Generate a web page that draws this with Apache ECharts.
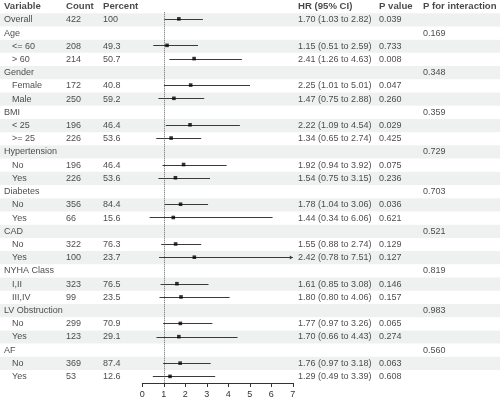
<!DOCTYPE html>
<html lang="en">
<head>
    <meta charset="UTF-8">
    <title>Forest plot</title>
    <script src="https://cdn.jsdelivr.net/npm/echarts@6/dist/echarts.min.js"></script>
    <style>
        * { margin: 0; padding: 0; }
        html, body { width: 500px; height: 399px; background: #fff; }
        #main { width: 500px; height: 399px; }
    </style>
</head>
<body>
<div id="main"></div>
<script type="text/javascript">
    // rows of the table (top to bottom)
    var labels = ['Overall', 'Age', '<= 60', '> 60', 'Gender', 'Female', 'Male', 'BMI', '< 25', '>= 25',
        'Hypertension', 'No', 'Yes', 'Diabetes', 'No', 'Yes', 'CAD', 'No', 'Yes', 'NYHA Class', 'I,II', 'III,IV',
        'LV Obstruction', 'No', 'Yes', 'AF', 'No', 'Yes'];
    var isSub = [0, 0, 1, 1, 0, 1, 1, 0, 1, 1, 0, 1, 1, 0, 1, 1, 0, 1, 1, 0, 1, 1, 0, 1, 1, 0, 1, 1];
    var counts = ['422', '', '208', '214', '', '172', '250', '', '196', '226', '', '196', '226', '', '356', '66',
        '', '322', '100', '', '323', '99', '', '299', '123', '', '369', '53'];
    var percents = ['100', '', '49.3', '50.7', '', '40.8', '59.2', '', '46.4', '53.6', '', '46.4', '53.6', '', '84.4', '15.6',
        '', '76.3', '23.7', '', '76.5', '23.5', '', '70.9', '29.1', '', '87.4', '12.6'];
    var hr = [1.70, null, 1.15, 2.41, null, 2.25, 1.47, null, 2.22, 1.34, null, 1.92, 1.54, null, 1.78, 1.44,
        null, 1.55, 2.42, null, 1.61, 1.80, null, 1.77, 1.70, null, 1.76, 1.29];
    var lower = [1.03, null, 0.51, 1.26, null, 1.01, 0.75, null, 1.09, 0.65, null, 0.94, 0.75, null, 1.04, 0.34,
        null, 0.88, 0.78, null, 0.85, 0.80, null, 0.97, 0.66, null, 0.97, 0.49];
    var upper = [2.82, null, 2.59, 4.63, null, 5.01, 2.88, null, 4.54, 2.74, null, 3.92, 3.15, null, 3.06, 6.06,
        null, 2.74, 7.51, null, 3.08, 4.06, null, 3.26, 4.43, null, 3.18, 3.39];
    var pValues = ['0.039', '', '0.733', '0.008', '', '0.047', '0.260', '', '0.029', '0.425', '', '0.075', '0.236', '',
        '0.036', '0.621', '', '0.129', '0.127', '', '0.146', '0.157', '', '0.065', '0.274', '', '0.063', '0.608'];
    var pInteraction = ['', '0.169', '', '', '0.348', '', '', '0.359', '', '', '0.729', '', '', '0.703', '', '',
        '0.521', '', '', '0.819', '', '', '0.983', '', '', '0.560', '', ''];
    var headers = ['Variable', 'Count', 'Percent', 'HR (95% CI)', 'P value', 'P for interaction'];
    var xTicks = [0, 1, 2, 3, 4, 5, 6, 7];

    var FONT = 'Liberation Sans';
    var XMAX = xTicks[xTicks.length - 1];
    var n = labels.length;

    var hrText = hr.map(function (v, i) {
        if (v == null) return '';
        return v.toFixed(2) + ' (' + lower[i].toFixed(2) + ' to ' + upper[i].toFixed(2) + ')';
    });

    // table grid: row 0 is the header, rows 1..n the data
    var tableCats = [];
    for (var i = 0; i <= n; i++) tableCats.push(String(i));

    function textSeries(x, header, texts, indentFn) {
        var data = [{value: [x, 0], label: {formatter: header, fontWeight: 'bold', fontSize: 9.6}}];
        texts.forEach(function (t, i) {
            if (t === '') return;
            var xx = indentFn ? indentFn(i) : x;
            data.push({value: [xx, i + 1], label: {formatter: t}});
        });
        return {
            type: 'scatter', xAxisIndex: 0, yAxisIndex: 0, symbolSize: 0, silent: true, z: 5,
            label: {show: true, position: 'right', distance: 0, fontFamily: FONT, fontSize: 9, color: '#1a1a1a'},
            data: data
        };
    }

    var shade = [];
    for (var i = 0; i <= n; i++) shade.push(i > 0 && i % 2 === 1 ? 500 : '-');

    var ciData = [];
    var pointData = [];
    hr.forEach(function (v, i) {
        if (v == null) return;
        ciData.push([lower[i], upper[i], i]);
        pointData.push([v, i]);
    });

    var myChart = echarts.init(document.getElementById('main'), null, {renderer: 'canvas'});
    var option = {
        animation: false,
        backgroundColor: '#fff',
        grid: [
            {left: 0, right: 0, top: -1, height: 384.25},
            {left: 142.3, width: 150.5, top: 12.25, height: 371.75}
        ],
        xAxis: [
            {gridIndex: 0, type: 'value', min: 0, max: 500, show: false},
            {
                gridIndex: 1, type: 'value', min: 0, max: XMAX, interval: 1,
                axisLine: {show: true, lineStyle: {color: '#333', width: 1}},
                axisTick: {show: true, length: 4, lineStyle: {color: '#333'}},
                axisLabel: {fontFamily: FONT, fontSize: 9, color: '#333', margin: 7},
                splitLine: {show: false}
            }
        ],
        yAxis: [
            {gridIndex: 0, type: 'category', data: tableCats, inverse: true, show: false},
            {gridIndex: 1, type: 'category', data: labels.map(function (l, i) { return String(i); }), inverse: true, show: false}
        ],
        series: [
            {
                type: 'bar', xAxisIndex: 0, yAxisIndex: 0, data: shade, barWidth: '100%', silent: true,
                itemStyle: {color: '#eff1f1'}, z: 1
            },
            textSeries(4, headers[0], labels, function (i) { return isSub[i] ? 12 : 4; }),
            textSeries(66, headers[1], counts),
            textSeries(103, headers[2], percents),
            textSeries(298, headers[3], hrText),
            textSeries(379, headers[4], pValues),
            textSeries(423, headers[5], pInteraction),
            {
                type: 'custom', xAxisIndex: 1, yAxisIndex: 1, silent: true, z: 6,
                data: ciData,
                renderItem: function (params, api) {
                    var lo = api.value(0), hi = api.value(1), row = api.value(2);
                    var p1 = api.coord([lo, row]);
                    var p2 = api.coord([Math.min(hi, XMAX), row]);
                    var y = Math.round(p1[1]) + 0.5;
                    var children = [{
                        type: 'line',
                        shape: {x1: p1[0], y1: y, x2: p2[0], y2: y},
                        style: {stroke: '#3a3a3a', lineWidth: 1}
                    }];
                    if (hi > XMAX) {
                        children.push({
                            type: 'polygon',
                            shape: {points: [[p2[0] - 3, y - 2], [p2[0], y], [p2[0] - 3, y + 2]]},
                            style: {fill: '#3a3a3a'}
                        });
                    }
                    return {type: 'group', children: children};
                }
            },
            {
                type: 'scatter', xAxisIndex: 1, yAxisIndex: 1, symbol: 'rect', symbolSize: 3.6, silent: true, z: 7,
                itemStyle: {color: '#000'},
                data: pointData,
                markLine: {
                    silent: true, symbol: 'none', label: {show: false},
                    lineStyle: {color: '#666', type: 'dotted', width: 1},
                    data: [{xAxis: 1}]
                }
            }
        ]
    };
    myChart.setOption(option);
</script>
</body>
</html>
